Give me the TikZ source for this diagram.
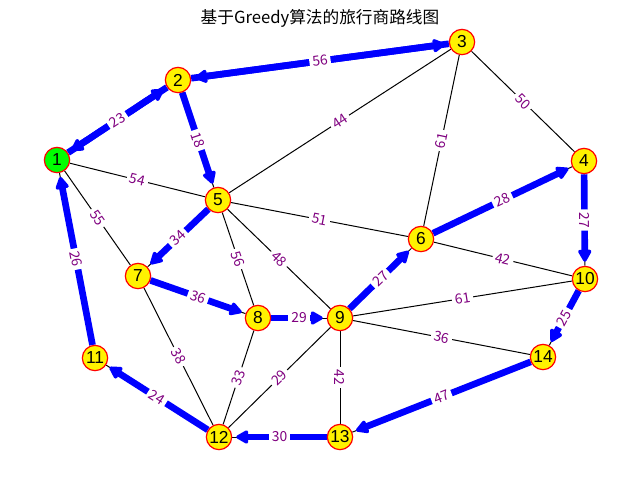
\documentclass[tikz,border=0pt]{standalone}
\usepackage{fontspec}
\setmainfont{Liberation Sans}
\newfontfamily\cjk{Noto Sans CJK SC}
\usetikzlibrary{arrows.meta,backgrounds}
\definecolor{lblpurple}{RGB}{128,0,128}
\definecolor{nodegreen}{RGB}{0,255,0}
\begin{document}
\begin{tikzpicture}[x=0.75pt,y=-0.75pt,
  city/.style={circle,draw=red,line width=0.9pt,fill=yellow,minimum size=19pt,inner sep=0pt,font=\fontsize{13}{15}\selectfont},
  plainedge/.style={black,line width=0.75pt},
  tour/.style={blue,line width=5pt,-{Triangle[length=10.5pt,width=11pt,round]},shorten >=3pt},
  wlbl/.style={fill=white,text=lblpurple,inner sep=2.2pt,font=\cjk\fontsize{10.4}{12}\selectfont,sloped,midway}
]
\useasboundingbox (0,0) rectangle (640,480);
\node[font=\cjk\fontsize{12.5}{14}\selectfont] (title) at (320,18) {基于Greedy算法的旅行商路线图};
\node[city,fill=nodegreen] (n1) at (57,160) {1};
\node[city] (n2) at (178,80) {2};
\node[city] (n3) at (462,42) {3};
\node[city] (n4) at (584,161) {4};
\node[city] (n5) at (218,200) {5};
\node[city] (n6) at (421,239) {6};
\node[city] (n7) at (138,276) {7};
\node[city] (n8) at (258,318) {8};
\node[city] (n9) at (340,318) {9};
\node[city] (n10) at (585,279) {10};
\node[city] (n11) at (95,358) {11};
\node[city] (n12) at (219,437) {12};
\node[city] (n13) at (340,437) {13};
\node[city] (n14) at (543,357) {14};
\begin{pgfonlayer}{background}
\foreach \a/\b in {1/2,2/3,2/5,5/7,7/8,8/9,9/6,6/4,4/10,10/14,14/13,13/12,12/11,11/1,1/5,1/7,3/5,3/6,3/4,5/6,5/8,5/9,6/10,9/10,9/14,9/13,7/12,8/12,9/12}
  \draw[plainedge] (n\a) -- (n\b);
\foreach \a/\b in {1/2,2/1,2/3,3/2,2/5,5/7,7/8,8/9,9/6,6/4,4/10,10/14,14/13,13/12,12/11,11/1}
  \draw[tour] (n\a) -- (n\b);
\foreach \a/\b/\w in {1/2/23,2/3/56,2/5/18,5/7/34,7/8/36,8/9/29,9/6/27,6/4/28,4/10/27,10/14/25,14/13/47,13/12/30,12/11/24,11/1/26,1/5/54,1/7/55,3/5/44,3/6/61,3/4/50,5/6/51,5/8/56,5/9/48,6/10/42,9/10/61,9/14/36,9/13/42,7/12/38,8/12/33,9/12/29}
  \path (n\a) -- (n\b) node[wlbl] {\w};
\end{pgfonlayer}
\end{tikzpicture}
\end{document}
